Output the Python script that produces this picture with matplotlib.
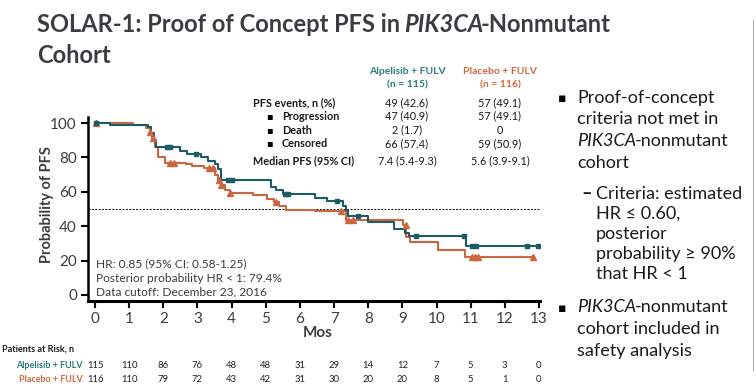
import matplotlib
matplotlib.use('Agg')
import matplotlib.pyplot as plt

W, H = 756, 386
plt.rcParams['font.family'] = ['Lato', 'DejaVu Sans']

TEAL = '#1d5c66'
ORANGE = '#cc6640'
TEAL_TXT = '#2b7b7c'
ORANGE_TXT = '#d4683e'
DARK = '#3a3d40'

# ---------------- data ----------------
alp_t = [0, 0.45, 1.55, 1.65, 1.72, 1.8, 2.5, 2.7, 3.1, 3.3, 3.5, 3.6, 3.7, 5.15, 5.3, 5.5,
         6.45, 6.8, 7.25, 7.35, 7.42, 8.0, 8.75, 9.08, 9.2, 10.85, 13.0]
alp_s = [100, 99, 97.5, 94, 90, 86, 84, 82, 80, 78, 76, 73, 67, 63, 61, 58.5,
         56.5, 54.5, 52, 49.5, 46, 42.5, 38.5, 36, 34.5, 28.7, 28.7]
alp_cens_t = [0.03, 2.1, 2.2, 2.95, 3.9, 4.0, 5.55, 5.65, 7.1, 7.7, 9.4, 10.8, 11.05, 11.15, 12.65, 12.97]
alp_cens_s = [100, 86, 86, 82, 67, 67, 58.5, 58.5, 54.5, 46, 34.5, 34.5, 28.7, 28.7, 28.7, 28.7]

plc_t = [0, 1.1, 1.5, 1.6, 1.68, 1.75, 1.85, 2.05, 2.65, 2.85, 3.2, 3.5, 3.6, 3.68, 3.8, 3.95,
         4.62, 5.05, 5.25, 5.4, 5.6, 6.45, 7.35, 9.02, 9.12, 9.22, 10.05, 10.83, 12.85]
plc_s = [100, 99, 97, 94, 90, 86, 80, 77, 76, 75, 74, 70, 67, 64, 61, 59.5,
         58, 56, 54, 52, 49.5, 48.8, 43.5, 40.5, 34, 31, 26, 22, 22]
plc_cens_t = [0.03, 1.62, 1.7, 2.2, 2.3, 3.35, 3.45, 3.62, 3.7, 3.95, 5.3, 7.2, 7.4, 7.55, 9.1,
              11.05, 11.12, 11.2, 12.83]
plc_cens_s = [100, 95, 91, 77, 77, 74, 74, 67, 64, 59.5, 54, 48.8, 43.5, 43.5, 40.5,
              22, 22, 22, 22]

x_ticks = list(range(0, 14))
y_ticks = [0, 20, 40, 60, 80, 100]
risk_alp = [115, 110, 86, 76, 48, 48, 31, 29, 14, 12, 7, 5, 3, 0]
risk_plc = [116, 110, 79, 72, 43, 42, 31, 30, 20, 20, 8, 5, 1, 0]

arm_names = ['Alpelisib + FULV', 'Placebo + FULV']
arm_n = ['(n = 115)', '(n = 116)']
row_labels = ['PFS events, n (%)', 'Progression', 'Death', 'Censored', 'Median PFS (95% CI)']
alp_vals = ['49 (42.6)', '47 (40.9)', '2 (1.7)', '66 (57.4)', '7.4 (5.4-9.3)']
plc_vals = ['57 (49.1)', '57 (49.1)', '0', '59 (50.9)', '5.6 (3.9-9.1)']

stats_lines = ['HR: 0.85 (95% CI: 0.58-1.25)',
               'Posterior probability HR < 1: 79.4%',
               'Data cutoff: December 23, 2016']

# ---------------- figure ----------------
fig = plt.figure(figsize=(7.56, 3.86), dpi=100)
renderer = fig.canvas.get_renderer()


def fx(px):
    return px / W


def fy(py):
    return 1 - py / H


def rich(px, py, parts, size, color=DARK, kern=0):
    x = px
    for txt, style, weight in parts:
        t = fig.text(fx(x), fy(py), txt, fontsize=size, style=style, weight=weight,
                     color=color, va='baseline', ha='left')
        bb = t.get_window_extent(renderer=renderer)
        x = bb.x1 + kern
    return x


ax = fig.add_axes([fx(88), fy(301), (540 - 88) / W, (301 - 117) / H])
ax.plot(alp_t, alp_s, drawstyle='steps-post', color=TEAL, lw=1.5, zorder=3)
ax.plot(plc_t, plc_s, drawstyle='steps-post', color=ORANGE, lw=1.5, zorder=2)
ax.plot(alp_cens_t, alp_cens_s, ls='none', marker='s', ms=3.5, color=TEAL, zorder=4)
ax.plot(plc_cens_t, plc_cens_s, ls='none', marker='^', ms=3.8, color=ORANGE, zorder=3)
ax.plot([-0.205, 13], [50, 50], ls=(0, (2, 1.5)), color='black', lw=0.7, zorder=1)

ax.set_xlim(-0.205, 13.03)
ax.set_ylim(-3.5, 103.5)
ax.set_xticks(x_ticks)
ax.set_yticks(y_ticks)
ax.tick_params(axis='both', direction='out', length=5, width=1.5, labelsize=11,
               colors='black', pad=3)
for lab in ax.get_xticklabels() + ax.get_yticklabels():
    lab.set_color(DARK)
for s in ['top', 'right']:
    ax.spines[s].set_visible(False)
ax.spines['left'].set_linewidth(1.8)
ax.spines['bottom'].set_linewidth(2.2)
ax.patch.set_alpha(0)

fig.text(fx(47), fy(205), 'Probability of PFS', fontsize=10.5, weight='bold', color=DARK,
         rotation=90, ha='center', va='center')
fig.text(fx(318), fy(333), 'Mos', fontsize=11, weight='bold', color=DARK, ha='center', va='center')

for i, line in enumerate(stats_lines):
    fig.text(fx(96), fy(264 + 14 * i), line, fontsize=8.6, color=DARK, va='center', ha='left')

# ---------------- title ----------------
TS = 17
rich(37, 32, [('SOLAR-1: Proof of Concept PFS in ', 'normal', 'bold'),
              ('PIK3CA', 'italic', 'bold'), ('-Nonmutant', 'normal', 'bold')], TS, kern=-2)
fig.text(fx(37), fy(63), 'Cohort', fontsize=TS, weight='bold', color=DARK, va='baseline', ha='left')

# ---------------- summary table ----------------
col_x = [407, 500]
for cx, name, n, c in zip(col_x, arm_names, arm_n, [TEAL_TXT, ORANGE_TXT]):
    fig.text(fx(cx), fy(71.5), name, fontsize=7.5, weight='bold', color=c, ha='center', va='center')
    fig.text(fx(cx), fy(85), n, fontsize=7.5, weight='bold', color=c, ha='center', va='center')
row_y = [102.5, 116, 130, 143.5, 161]
for i, (lab, a, p) in enumerate(zip(row_labels, alp_vals, plc_vals)):
    if i in (1, 2, 3):
        fig.text(fx(266), fy(row_y[i]), '\u25aa', fontsize=7, color='black', ha='left', va='center',
                 family='DejaVu Sans')
        fig.text(fx(282), fy(row_y[i]), lab, fontsize=7.8, weight='bold', color='#1a1a1a', ha='left', va='center')
    else:
        fig.text(fx(253), fy(row_y[i]), lab, fontsize=7.8, weight='bold', color='#1a1a1a', ha='left', va='center')
    fig.text(fx(col_x[0]), fy(row_y[i]), a, fontsize=7.8, color='#1a1a1a', ha='center', va='center')
    fig.text(fx(col_x[1]), fy(row_y[i]), p, fontsize=7.8, color='#1a1a1a', ha='center', va='center')

# ---------------- risk table ----------------
fig.text(fx(2), fy(349), 'Patients at Risk, n', fontsize=6.5, weight='bold', color='#1a1a1a', ha='left', va='center')
fig.text(fx(83), fy(365), arm_names[0], fontsize=6.5, weight='bold', color=TEAL_TXT, ha='right', va='center')
fig.text(fx(83), fy(380), arm_names[1], fontsize=6.5, weight='bold', color=ORANGE_TXT, ha='right', va='center')
for xt, a, p in zip(x_ticks, risk_alp, risk_plc):
    xd = ax.transData.transform((xt, 0))[0]
    fig.text(xd / W, fy(365), str(a), fontsize=6.8, color='#222222', ha='center', va='center')
    fig.text(xd / W, fy(380), str(p), fontsize=6.8, color='#222222', ha='center', va='center')

# ---------------- right bullets ----------------
BS = 13
TXT = '#1a1a1a'


def bullet(py):
    fig.text(fx(558), fy(py - 4.5), '\u25aa', fontsize=9, color='black', ha='left', va='center',
             family='DejaVu Sans')


bullet(102.5)
fig.text(fx(577), fy(102.5), 'Proof-of-concept', fontsize=BS, color=TXT, va='baseline')
fig.text(fx(577), fy(124.5), 'criteria not met in', fontsize=BS, color=TXT, va='baseline')
rich(577, 146, [('PIK3CA', 'italic', 'normal'), ('-nonmutant', 'normal', 'normal')], BS, color=TXT, kern=-1)
fig.text(fx(577), fy(167.5), 'cohort', fontsize=BS, color=TXT, va='baseline')

fig.text(fx(581), fy(199), '\u2013', fontsize=BS, weight='bold', color=TXT, va='baseline')
sub = ['Criteria: estimated', 'HR \u2264 0.60,', 'posterior', 'probability \u2265 90%', 'that HR < 1']
for i, s in enumerate(sub):
    fig.text(fx(596), fy(199 + 20 * i), s, fontsize=BS, color=TXT, va='baseline')

bullet(312.5)
rich(577, 312.5, [('PIK3CA', 'italic', 'normal'), ('-nonmutant', 'normal', 'normal')], BS, color=TXT, kern=-1)
fig.text(fx(577), fy(334), 'cohort included in', fontsize=BS, color=TXT, va='baseline')
fig.text(fx(577), fy(356), 'safety analysis', fontsize=BS, color=TXT, va='baseline')

fig.add_artist(plt.Line2D([fx(753), fx(753)], [fy(20), fy(370)], color='#b0b0b0', lw=0.8))

fig.savefig('out.png', dpi=100)
